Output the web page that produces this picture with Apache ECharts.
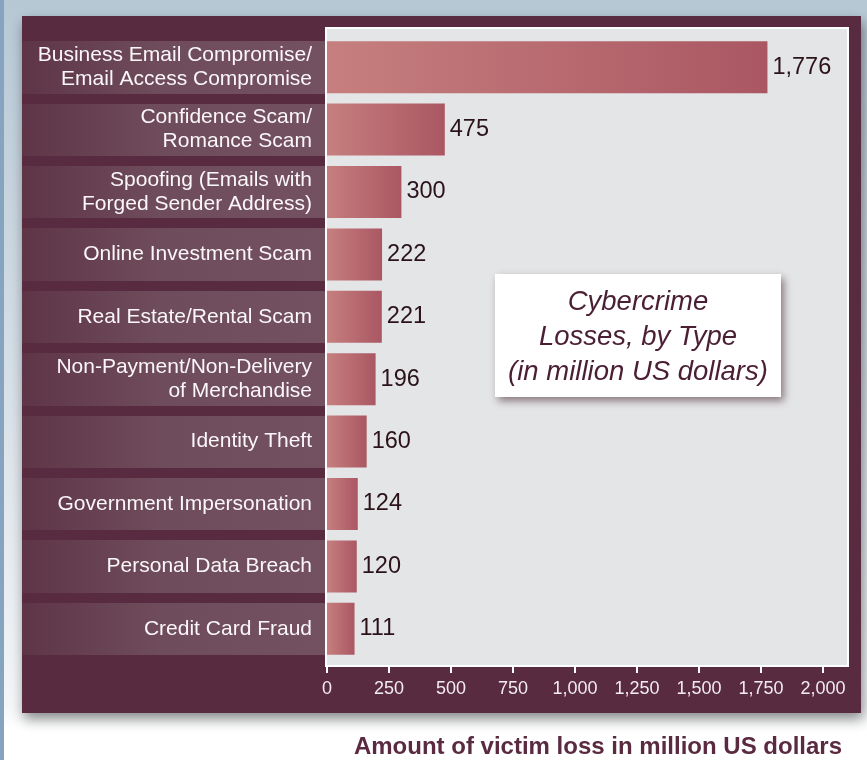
<!DOCTYPE html>
<html>
<head>
<meta charset="utf-8">
<script src="https://cdn.jsdelivr.net/npm/echarts@6/dist/echarts.min.js"></script>
<style>
html,body{margin:0;padding:0;background:#fff;}
#c{width:867px;height:760px;}
</style>
</head>
<body>
<div id="c"></div>
<script>
const categories = [
  'Business Email Compromise/\nEmail Access Compromise',
  'Confidence Scam/\nRomance Scam',
  'Spoofing (Emails with\nForged Sender Address)',
  'Online Investment Scam',
  'Real Estate/Rental Scam',
  'Non-Payment/Non-Delivery\nof Merchandise',
  'Identity Theft',
  'Government Impersonation',
  'Personal Data Breach',
  'Credit Card Fraud'
];
const losses = [1776, 475, 300, 222, 221, 196, 160, 124, 120, 111];
const xTicks = { min: 0, max: 2000, interval: 250 };
const titleLines = ['Cybercrime', 'Losses, by Type', '(in million US dollars)'];
const axisTitle = 'Amount of victim loss in million US dollars';

const FONT = '"Liberation Sans", Arial, Helvetica, sans-serif';
const PANEL = '#582b40';
const fmt = v => Number(v).toLocaleString('en-US');

const chart = echarts.init(document.getElementById('c'), null, { renderer: 'canvas' });
chart.setOption({
  backgroundColor: new echarts.graphic.LinearGradient(0, 0, 0, 1, [
    { offset: 0, color: '#b7c8d5' },
    { offset: 0.45, color: '#d3dde5' },
    { offset: 0.93, color: '#f4f6f8' },
    { offset: 0.96, color: '#ffffff' },
    { offset: 1, color: '#ffffff' }
  ]),
  animation: false,
  title: {
    text: axisTitle,
    right: 20,
    top: 730,
    textStyle: { fontFamily: FONT, fontSize: 24, fontWeight: 'bold', color: '#5a2a40' }
  },
  graphic: [
    { type: 'rect', z: -20, shape: { x: 0, y: 0, width: 4, height: 760 }, style: { fill: '#86a3bf' } },
    { type: 'rect', z: -19, shape: { x: 22, y: 16, width: 839, height: 697 },
      style: { fill: PANEL, shadowBlur: 12, shadowOffsetY: 6, shadowOffsetX: 2, shadowColor: 'rgba(0,0,0,0.45)' } },
    { type: 'rect', z: -18, shape: { x: 326, y: 28, width: 522, height: 638 },
      style: { fill: '#e4e5e7', stroke: '#ffffff', lineWidth: 2 } },
    { type: 'group', z: 50, children: [
      { type: 'rect', shape: { x: 495, y: 274, width: 286, height: 123 },
        style: { fill: '#ffffff', shadowBlur: 8, shadowOffsetX: 3, shadowOffsetY: 4, shadowColor: 'rgba(60,30,40,0.55)' } },
      { type: 'text', x: 638, y: 337,
        style: { text: titleLines.join('\n'), fill: '#4a1f33', font: 'italic 27.5px ' + FONT,
                 lineHeight: 35, align: 'center', verticalAlign: 'middle' } }
    ]}
  ],
  grid: [
    { left: 327, top: 36, width: 496, height: 624, containLabel: false },
    { left: 22, top: 36, width: 303, height: 624, show: true, borderWidth: 0,
      backgroundColor: new echarts.graphic.LinearGradient(0, 0, 1, 0, [
        { offset: 0, color: '#5e3547' },
        { offset: 0.45, color: '#6f4c5b' },
        { offset: 1, color: '#735161' }
      ]) }
  ],
  xAxis: [
    { type: 'value', gridIndex: 0, min: xTicks.min, max: xTicks.max, interval: xTicks.interval, offset: 6,
      axisLine: { show: false },
      axisTick: { show: true, length: 7, lineStyle: { color: '#ffffff', width: 2 } },
      splitLine: { show: false },
      axisLabel: { color: '#f3ecef', fontFamily: FONT, fontSize: 18, margin: 14, formatter: fmt } },
    { type: 'value', gridIndex: 1, min: 0, max: 1, show: false }
  ],
  yAxis: [
    { type: 'category', gridIndex: 0, data: categories, inverse: true,
      axisLine: { show: false }, axisTick: { show: false }, axisLabel: { show: false }, splitLine: { show: false } },
    { type: 'category', gridIndex: 1, data: categories, inverse: true, position: 'right',
      axisLine: { show: false }, axisTick: { show: false },
      splitLine: { show: true, lineStyle: { color: PANEL, width: 10 } },
      axisLabel: { inside: true, margin: 13, color: '#fbf7f9', fontFamily: FONT, fontSize: 21,
                   lineHeight: 24, align: 'right' } }
  ],
  series: [{
    type: 'bar',
    xAxisIndex: 0,
    yAxisIndex: 0,
    data: losses,
    barWidth: 52,
    itemStyle: {
      color: new echarts.graphic.LinearGradient(0, 0, 1, 0, [
        { offset: 0, color: '#c67f7e' },
        { offset: 1, color: '#aa5763' }
      ])
    },
    label: { show: true, position: 'right', distance: 5, color: '#2a1218',
             fontFamily: FONT, fontSize: 23.5, formatter: p => fmt(p.value) }
  }]
});
</script>
</body>
</html>
